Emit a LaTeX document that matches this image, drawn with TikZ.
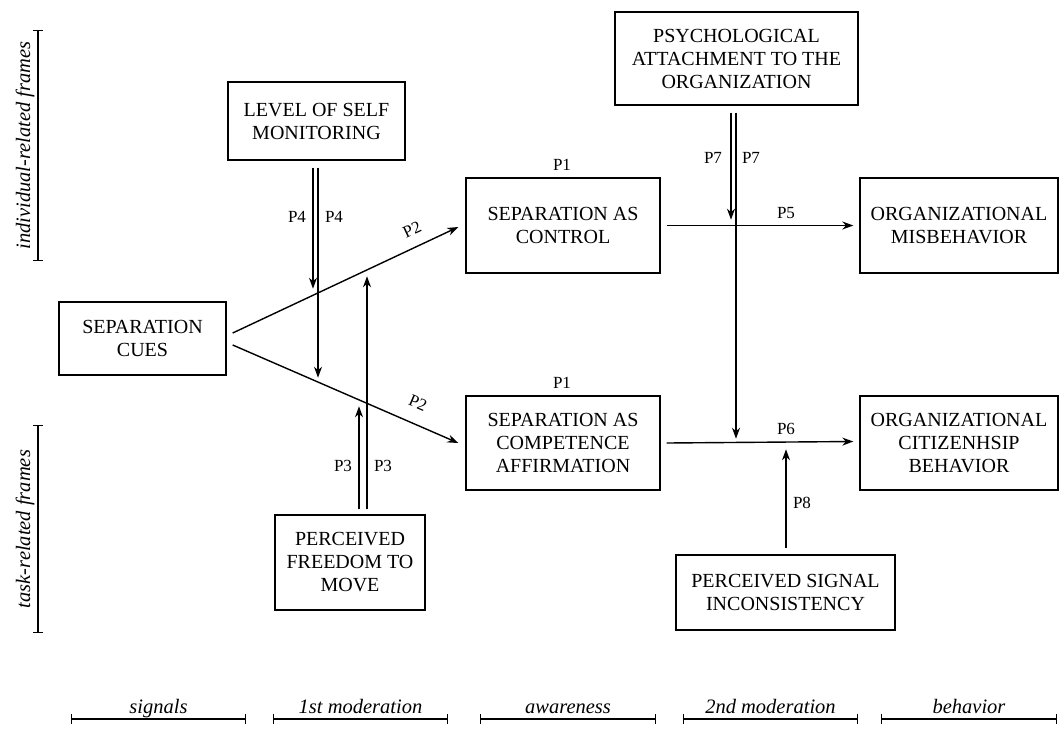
\documentclass[tikz,border=0pt]{standalone}
\usepackage{fontspec}
\setmainfont{Liberation Serif}
\usetikzlibrary{arrows.meta,calc}
\begin{document}
\begin{tikzpicture}[x=1pt,y=-1pt,
  box/.style={draw,line width=1.4pt,inner sep=0pt,align=center,font=\fontsize{20}{23}\selectfont},
  arr/.style={line width=1.4pt,-{Stealth[length=11pt,width=8pt]}},
  plabel/.style={font=\fontsize{17}{19}\selectfont,inner sep=0pt},
  side/.style={font=\fontsize{20.5}{23}\selectfont\itshape,inner sep=0pt},
  barline/.style={line width=1.4pt,{Bar[width=10pt,line width=1.4pt]}-{Bar[width=10pt,line width=1.4pt]}}]
\useasboundingbox (0,0) rectangle (1064,731);

% boxes
\node[box,minimum width=167pt,minimum height=73pt] (cues) at (142.5,338.5) {SEPARATION\\CUES};
\node[box,minimum width=177pt,minimum height=78pt] (level) at (316.5,121) {LEVEL OF SELF\\MONITORING};
\node[box,minimum width=243pt,minimum height=93pt] (psych) at (736.5,58.5) {PSYCHOLOGICAL\\ATTACHMENT TO THE\\ORGANIZATION};
\node[box,minimum width=194pt,minimum height=95pt] (ctrl) at (563,225.5) {SEPARATION AS\\CONTROL};
\node[box,minimum width=194pt,minimum height=94pt] (comp) at (563,443) {SEPARATION AS\\COMPETENCE\\AFFIRMATION};
\node[box,minimum width=198pt,minimum height=95pt] (misb) at (959,225.5) {ORGANIZATIONAL\\MISBEHAVIOR};
\node[box,minimum width=198pt,minimum height=94pt] (ocb) at (959,443) {ORGANIZATIONAL\\CITIZENHSIP\\BEHAVIOR};
\node[box,minimum width=150pt,minimum height=95pt] (freedom) at (350,562.5) {PERCEIVED\\FREEDOM TO\\MOVE};
\node[box,minimum width=219pt,minimum height=75pt] (signal) at (785.5,592.5) {PERCEIVED SIGNAL\\INCONSISTENCY};

% P2 arrows
\draw[arr] ($(cues.east)+(6,-5.5)$) -- ($(ctrl.west)+(-7,1.5)$);
\draw[arr] ($(cues.east)+(6,6.5)$) -- ($(comp.west)+(-7,0)$);
\node[plabel,rotate=25] (p2a) at (412,230) {P2};
\node[plabel,rotate=-23] (p2b) at (418,403) {P2};

% P4 arrows
\draw[arr] ($(level.south)+(-3.5,7)$) -- ($(level.south)+(-3.5,128)$);
\draw[arr] ($(level.south)+(1.5,7)$) -- ($(level.south)+(1.5,217)$);
\node[plabel] (p4a) at (297,217) {P4};
\node[plabel] (p4b) at (334,217) {P4};

% P3 arrows
\draw[arr] ($(freedom.north)+(9,-5)$) -- ($(freedom.north)+(9,-108)$);
\draw[arr] ($(freedom.north)+(17,-5)$) -- ($(freedom.north)+(17,-238)$);
\node[plabel] (p3a) at (343,466) {P3};
\node[plabel] (p3b) at (383,466) {P3};

% P1 labels
\node[plabel] (p1a) at (562,165) {P1};
\node[plabel] (p1b) at (562,383) {P1};

% P5, P6
\draw[arr] ($(ctrl.east)+(6,0)$) -- ($(misb.west)+(-6,0)$);
\draw[arr] ($(comp.east)+(6,0)$) -- ($(ocb.west)+(-6,-1.5)$);
\node[plabel] (p5) at (786,213) {P5};
\node[plabel] (p6) at (786,429) {P6};

% P7 arrows
\draw[arr] ($(psych.south)+(-5.5,7)$) -- ($(psych.south)+(-5.5,114)$);
\draw[arr] ($(psych.south)+(-0.5,7)$) -- ($(psych.south)+(-0.5,333)$);
\node[plabel] (p7a) at (713,158) {P7};
\node[plabel] (p7b) at (751,158) {P7};

% P8
\draw[arr] ($(signal.north)+(0.5,-6)$) -- ($(signal.north)+(0.5,-105)$);
\node[plabel] (p8) at (802,503) {P8};

% side brackets
\coordinate (s1t) at (38,30); \coordinate (s1b) at (38,261);
\draw[barline] (s1t) -- (s1b);
\node[side,rotate=90,anchor=base] (s1l) at (30,145.5) {individual-related frames};
\coordinate (s2t) at (38,425); \coordinate (s2b) at (38,633);
\draw[barline] (s2t) -- (s2b);
\node[side,rotate=90,anchor=base] (s2l) at (30,529) {task-related frames};

% bottom scales
\foreach \a/\b/\t/\n in {71/246/signals/b1,273/448/1st moderation/b2,480/656/awareness/b3,683/858/2nd moderation/b4,881/1057/behavior/b5}{
  \coordinate (\n l) at (\a,719);
  \coordinate (\n r) at (\b,719);
  \draw[barline] (\n l) -- (\n r);
  \node[side,anchor=base] (\n t) at ({(\a+\b)/2},713) {\t};
}
\end{tikzpicture}
\end{document}
